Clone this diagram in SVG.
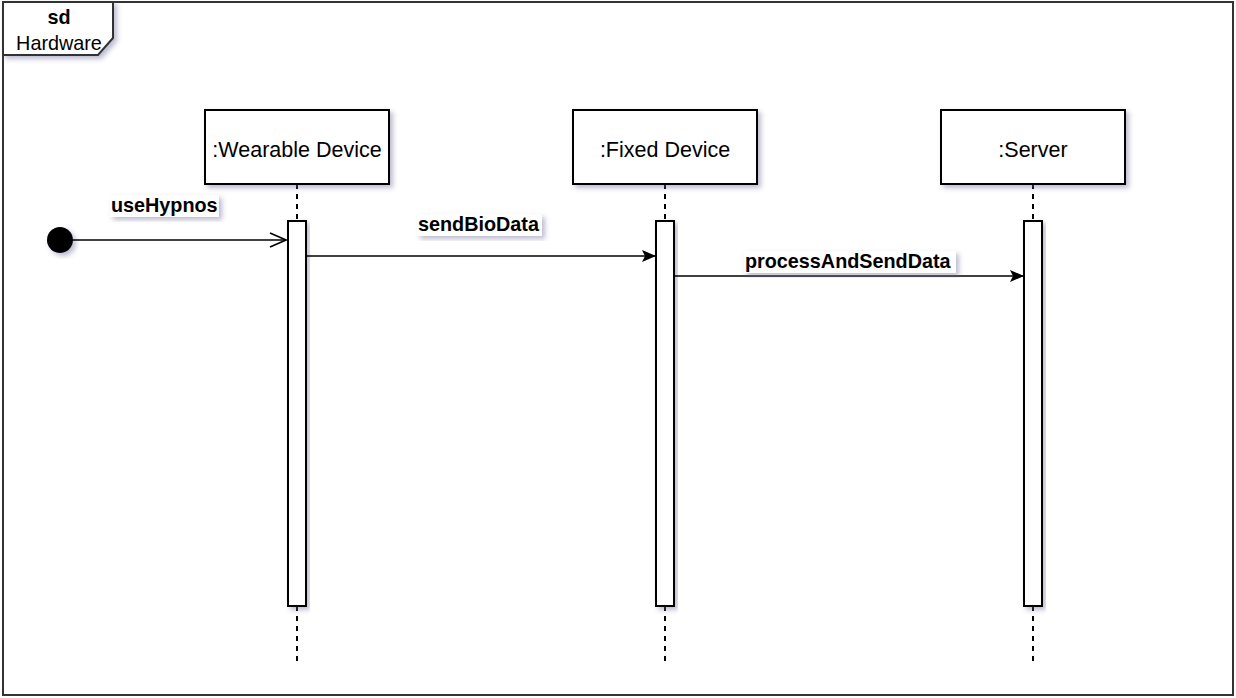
<svg xmlns="http://www.w3.org/2000/svg" width="1236" height="698" viewBox="0 0 1236 698">
  <defs>
    <filter id="shadow" x="-20%" y="-20%" width="140%" height="140%">
      <feDropShadow dx="3" dy="3" stdDeviation="2.5" flood-color="#6a6a9a" flood-opacity="0.45"/>
    </filter>
    <marker id="open" viewBox="0 0 20 20" refX="19" refY="10" markerWidth="20" markerHeight="20" markerUnits="userSpaceOnUse" orient="auto">
      <path d="M3,3 L19,10 L3,17" fill="none" stroke="#000" stroke-width="1.6"/>
    </marker>
    <marker id="filled" viewBox="0 0 16 16" refX="15" refY="8" markerWidth="16" markerHeight="16" markerUnits="userSpaceOnUse" orient="auto">
      <path d="M1,2 L15,8 L1,14 L4,8 Z" fill="#000"/>
    </marker>
    <style>
      .frame { fill: #fff; stroke: #333; stroke-width: 2; }
      .box { fill: #fff; stroke: #000; stroke-width: 2; filter: url(#shadow); }
      .bar { fill: #fff; stroke: #000; stroke-width: 2; filter: url(#shadow); }
      .life { stroke: #000; stroke-width: 2; stroke-dasharray: 5 5; fill: none; }
      .msg { stroke: #000; stroke-width: 1.6; fill: none; }
      .name { font-family: "Liberation Sans", Arial, sans-serif; font-size: 21.5px; fill: #000; text-anchor: middle; }
      .lbl { font-family: "Liberation Sans", Arial, sans-serif; font-size: 19.8px; font-weight: bold; fill: #000; }
      .lblbg { fill: #fff; filter: url(#shadow); }
    </style>
  </defs>

  <rect width="1236" height="698" fill="#fff"/>

  <!-- diagram frame with sd tab -->
  <g id="frame">
    <rect class="frame" x="3" y="2" width="1230" height="693"/>
    <path d="M3,2 L113,2 L113,38 L98,55 L3,55 Z" fill="#fff" stroke="#333" stroke-width="2" filter="url(#shadow)"/>
    <text x="59" y="24" font-family="'Liberation Sans', Arial, sans-serif" font-size="19.8" font-weight="bold" text-anchor="middle">sd</text>
    <text x="59" y="50" font-family="'Liberation Sans', Arial, sans-serif" font-size="19.8" text-anchor="middle">Hardware</text>
  </g>

  <!-- lifelines -->
  <g id="wearable">
    <line class="life" x1="297" y1="184" x2="297" y2="221"/>
    <line class="life" x1="297" y1="606" x2="297" y2="662"/>
    <rect class="box" x="205" y="110" width="184" height="74"/>
    <text class="name" x="297" y="157">:Wearable Device</text>
    <rect class="bar" x="288" y="221" width="18" height="385"/>
  </g>

  <g id="fixed">
    <line class="life" x1="665" y1="184" x2="665" y2="221"/>
    <line class="life" x1="665" y1="606" x2="665" y2="662"/>
    <rect class="box" x="573" y="110" width="184" height="74"/>
    <text class="name" x="665" y="157">:Fixed Device</text>
    <rect class="bar" x="656" y="221" width="18" height="385"/>
  </g>

  <g id="server">
    <line class="life" x1="1033" y1="184" x2="1033" y2="221"/>
    <line class="life" x1="1033" y1="606" x2="1033" y2="662"/>
    <rect class="box" x="941" y="110" width="184" height="74"/>
    <text class="name" x="1033" y="157">:Server</text>
    <rect class="bar" x="1024" y="221" width="18" height="385"/>
  </g>

  <!-- messages -->
  <g id="connectors">
    <circle cx="60" cy="240" r="13" fill="#000" filter="url(#shadow)"/>
    <line class="msg" x1="60" y1="240" x2="286" y2="240" marker-end="url(#open)"/>
    <rect class="lblbg" x="110" y="195" width="109" height="22"/>
    <text class="lbl" x="111" y="212">useHypnos</text>

    <line class="msg" x1="307" y1="256" x2="656" y2="256" marker-end="url(#filled)"/>
    <rect class="lblbg" x="417" y="214" width="125" height="22"/>
    <text class="lbl" x="418" y="231">sendBioData</text>

    <line class="msg" x1="675" y1="276" x2="1024" y2="276" marker-end="url(#filled)"/>
    <rect class="lblbg" x="744" y="251" width="212" height="22"/>
    <text class="lbl" x="745" y="268">processAndSendData</text>
  </g>
</svg>
